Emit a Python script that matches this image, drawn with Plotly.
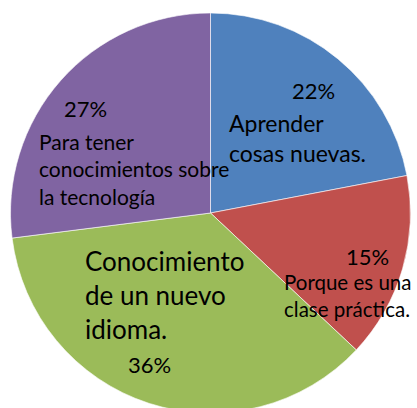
import plotly.graph_objects as go

W, H = 417, 413  # the pie runs slightly past the bottom of the 408px window

labels = ["Aprender cosas nuevas.", "Porque es una clase práctica.",
          "Conocimiento de un nuevo idioma.", "Para tener conocimientos sobre la tecnología"]
values = [22, 15, 36, 27]
colors = ["#4F81BD", "#C0504D", "#9BBB59", "#8064A2"]

# wrapped text as in the original label boxes
label_lines = [
    ["Aprender", "cosas nuevas."],
    ["Porque es una", "clase práctica."],
    ["Conocimiento", "de un nuevo", "idioma."],
    ["Para tener", "conocimientos sobre", "la tecnología"],
]


def px(x, y):
    # pixel position -> paper coords
    return x / W, 1 - y / H


fig = go.Figure(go.Pie(
    labels=labels,
    values=values,
    sort=False,
    direction="clockwise",
    rotation=0,
    marker=dict(colors=colors, line=dict(color="white", width=0.6)),
    textinfo="none",
    hoverinfo="label+percent",
    domain=dict(x=[10.5 / W, 410.5 / W], y=[0, 400 / H]),
    showlegend=False,
))

# label placement: (pct x, pct y, text x, text top y, text size, pct size)
# (annotation boxes carry ~3px padding, hence the small offsets)
placements = [
    (313, 90, 227, 107, 23, 22),
    (367, 256, 282, 268, 20.5, 22),
    (149, 364, 83, 243, 26, 22),
    (85, 109, 37, 127, 21, 22),
]

font_family = "Lato"
for i, (pxx, pyy, tx, ty, tsize, psize) in enumerate(placements):
    total = sum(values)
    pct = f"{round(values[i] / total * 100)}%"
    x, y = px(pxx, pyy)
    fig.add_annotation(x=x, y=y, xref="paper", yref="paper", text=pct, showarrow=False,
                       xanchor="center", yanchor="middle",
                       font=dict(family=font_family, size=psize, color="black"))
    x, y = px(tx, ty)
    fig.add_annotation(x=x, y=y, xref="paper", yref="paper", text="<br>".join(label_lines[i]),
                       showarrow=False, xanchor="left", yanchor="top", align="left",
                       font=dict(family=font_family, size=tsize, color="black"))

fig.update_layout(
    width=W, height=H,
    margin=dict(l=0, r=0, t=0, b=0),
    paper_bgcolor="white",
    plot_bgcolor="white",
)

# drop the default body margin so the figure sits at the window's corner
fig.write_html("out.html", config={"displayModeBar": False}, post_script=(
    "document.body.style.margin='0';"
    "document.body.style.overflow='hidden';"
    "document.documentElement.style.overflow='hidden';"
))
